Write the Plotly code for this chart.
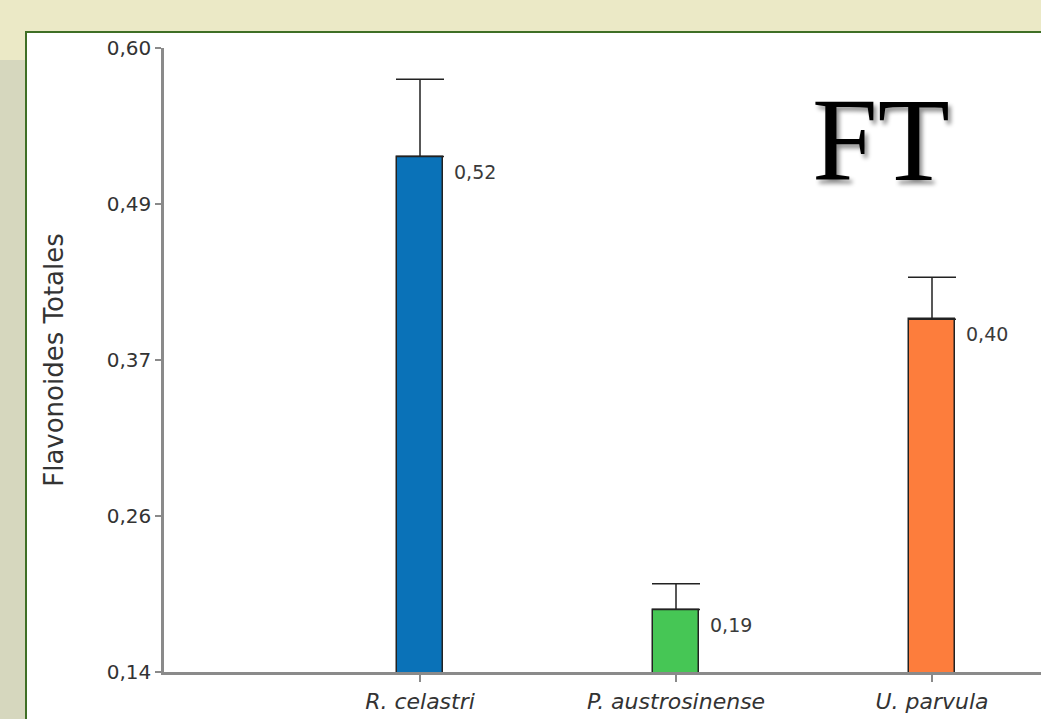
import plotly.graph_objects as go

# Flavonoides totales por especie
especies = ["R. celastri", "P. austrosinense", "U. parvula"]
valores = [0.52, 0.186, 0.40]
error_sup = [0.057, 0.019, 0.031]
colores = ["#0a72b8", "#46c655", "#fd7d3c"]

y_ticks = [0.14, 0.255, 0.37, 0.485, 0.60]
y_ticktext = ["0,14", "0,26", "0,37", "0,49", "0,60"]

W, H = 1041, 719
ML, MR, MT, MB = 164, 0, 48, 47
pw, ph = W - ML - MR, H - MT - MB


def px_x(p):
    return (p - ML) / pw


def px_y(p):
    return (H - MB - p) / ph


fig = go.Figure()

fig.add_trace(go.Bar(
    x=especies,
    y=valores,
    width=0.18,
    marker=dict(color=colores, line=dict(color="#222222", width=1.5)),
    error_y=dict(type="data", symmetric=False, array=error_sup,
                 arrayminus=[0] * len(valores),
                 color="#222222", thickness=1.5, width=24),
    hoverinfo="x+y",
))

# etiquetas con el valor junto a cada barra
for esp, v in zip(especies, valores):
    fig.add_annotation(
        x=esp, y=v, xref="x", yref="y",
        text=f"{v:.2f}".replace(".", ","),
        showarrow=False, xanchor="left", yanchor="middle",
        xshift=32, yshift=-15,
        font=dict(family="DejaVu Sans", size=19, color="#3a3a3a"),
    )

# título grande en serif con sombra
fig.add_annotation(
    x=px_x(881), y=px_y(140), xref="paper", yref="paper",
    text="FT", showarrow=False, xanchor="center", yanchor="middle",
    font=dict(family="Liberation Serif", size=118, color="#000000",
              shadow="3px 4px 4px rgba(0,0,0,0.45)"),
)

# fondo exterior: franja izquierda algo más gris
fig.add_shape(
    type="rect", xref="paper", yref="paper", layer="below",
    x0=px_x(-10), x1=px_x(26), y0=px_y(760), y1=px_y(60),
    fillcolor="#d6d7be", line=dict(width=0),
)

# panel blanco con borde verde
fig.add_shape(
    type="rect", xref="paper", yref="paper", layer="below",
    x0=px_x(26), x1=px_x(1100), y0=px_y(760), y1=px_y(32),
    fillcolor="#ffffff", line=dict(color="#3f6f26", width=2),
)

fig.update_layout(
    width=W, height=H,
    margin=dict(l=ML, r=MR, t=MT, b=MB),
    paper_bgcolor="#ebe9c6",
    plot_bgcolor="#ffffff",
    showlegend=False,
    bargap=0,
    xaxis=dict(
        range=[-1, -1 + pw / 256],
        showline=True, linecolor="#8a8a8a", linewidth=2.5,
        ticks="outside", ticklen=7, tickwidth=2, tickcolor="#8a8a8a",
        tickfont=dict(family="DejaVu Sans", size=22, color="#333333",
                      style="italic"),
        ticklabelstandoff=1,
        showgrid=False, zeroline=False, fixedrange=True,
    ),
    yaxis=dict(
        range=[0.14, 0.60],
        tickvals=y_ticks, ticktext=y_ticktext,
        showline=True, linecolor="#8a8a8a", linewidth=2.5,
        ticks="outside", ticklen=6, tickwidth=2, tickcolor="#8a8a8a",
        tickfont=dict(family="DejaVu Sans", size=20, color="#333333"),
        title=dict(text="Flavonoides Totales", standoff=36,
                   font=dict(family="DejaVu Sans", size=26, color="#333333")),
        showgrid=False, zeroline=False, fixedrange=True,
    ),
)

fig.write_html("out.html")
